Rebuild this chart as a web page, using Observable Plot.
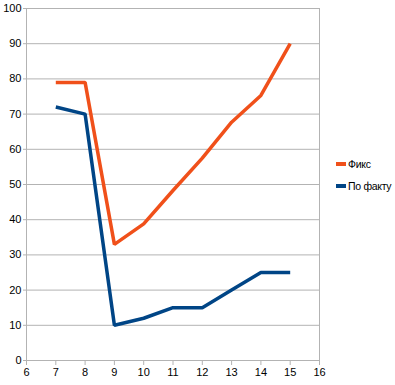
<!DOCTYPE html>
<html>
<head>
<meta charset="utf-8">
<script src="https://cdn.jsdelivr.net/npm/d3@7"></script>
<script src="https://cdn.jsdelivr.net/npm/@observablehq/plot@0.6"></script>
<style>
  html, body { margin: 0; padding: 0; background: #fff; }
  #wrap { position: relative; width: 395px; height: 385px; font-family: "Liberation Sans", Arial, sans-serif; }
  .legend { position: absolute; left: 336px; font-size: 10.5px; letter-spacing: -0.3px; color: #000; line-height: 12px; white-space: nowrap; }
  .legend span.sw { display: inline-block; width: 10px; height: 4px; vertical-align: middle; margin-right: 2px; position: relative; top: -1px; }
</style>
</head>
<body>
<div id="wrap"></div>
<script>
const xValues = [7, 8, 9, 10, 11, 12, 13, 14, 15];
const fiks = [79, 79, 33, 38.8, 48.3, 57.5, 67.7, 75.3, 90];
const fakt = [72, 70, 10, 12, 15, 15, 20, 25, 25];
const seriesNames = ["Фикс", "По факту"];
const seriesColors = ["#f0501a", "#004586"];
const xTicks = [6, 7, 8, 9, 10, 11, 12, 13, 14, 15, 16];
const yTicks = [0, 10, 20, 30, 40, 50, 60, 70, 80, 90, 100];

const data = [];
xValues.forEach((x, i) => {
  data.push({x, y: fiks[i], s: seriesNames[0]});
  data.push({x, y: fakt[i], s: seriesNames[1]});
});

const grid = "#b3b3b3";
const chart = Plot.plot({
  width: 395,
  height: 385,
  marginLeft: 26,
  marginRight: 76,
  marginTop: 8,
  marginBottom: 25,
  style: {fontSize: "11px", fontFamily: "Liberation Sans, Arial, sans-serif", color: "#000", background: "#fff"},
  x: {domain: [6, 16]},
  y: {domain: [0, 100]},
  color: {domain: seriesNames, range: seriesColors},
  marks: [
    Plot.gridY(yTicks, {stroke: grid, strokeOpacity: 1}),
    Plot.ruleX([xTicks[0], xTicks[xTicks.length - 1]], {stroke: grid}),
    Plot.ruleY([0], {stroke: grid}),
    Plot.axisX({ticks: xTicks, tickSize: 5, tickPadding: 3, stroke: grid, fill: "#000", label: null, tickFormat: d => d}),
    Plot.axisY({ticks: yTicks, tickSize: 3, tickPadding: 2, stroke: grid, fill: "#000", label: null, tickFormat: d => d}),
    Plot.line(data, {x: "x", y: "y", z: "s", stroke: "s", strokeWidth: 3.5, strokeLinejoin: "miter", strokeLinecap: "butt"})
  ]
});

const wrap = document.getElementById("wrap");
wrap.appendChild(chart);
const tops = [158, 180];
seriesNames.forEach((n, i) => {
  const d = document.createElement("div");
  d.className = "legend";
  d.style.top = tops[i] + "px";
  d.innerHTML = `<span class="sw" style="background:${seriesColors[i]}"></span>${n}`;
  wrap.appendChild(d);
});
</script>
</body>
</html>
